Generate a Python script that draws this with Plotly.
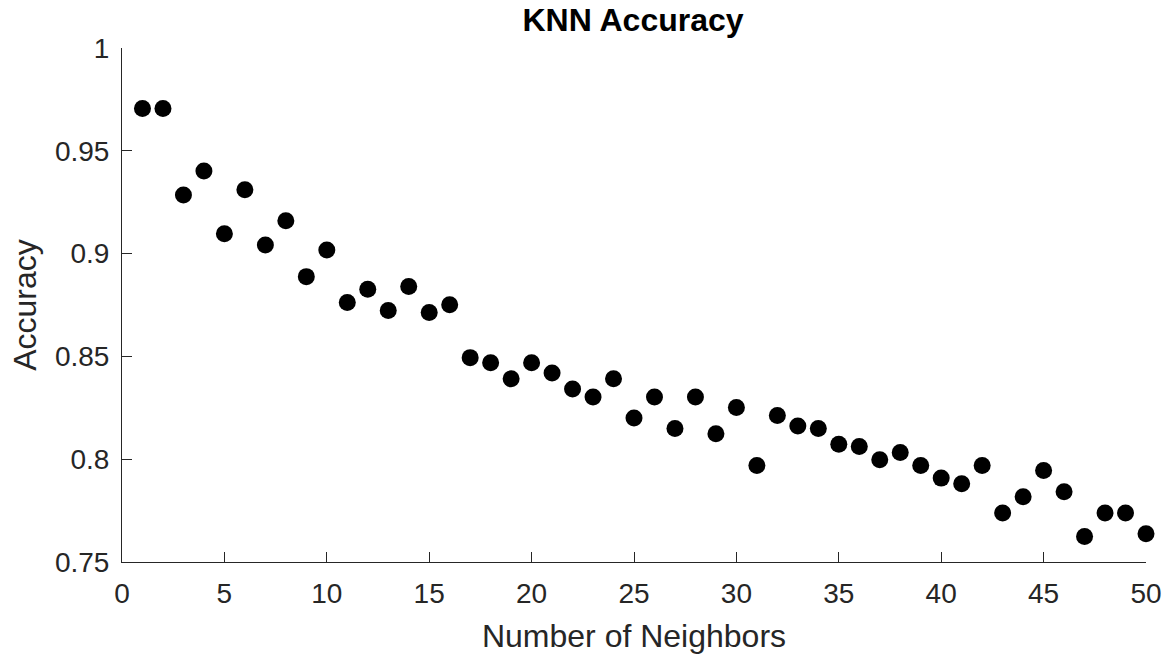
import plotly.graph_objects as go

neighbors = list(range(1, 51))
accuracy = [
    0.9706, 0.9706, 0.9285, 0.9402, 0.9096, 0.9310, 0.9042, 0.9160, 0.8888, 0.9018,
    0.8762, 0.8827, 0.8723, 0.8840, 0.8713, 0.8751, 0.8494, 0.8469, 0.8391, 0.8469,
    0.8419, 0.8341, 0.8302, 0.8391, 0.8200, 0.8302, 0.8149, 0.8302, 0.8124, 0.8251,
    0.7969, 0.8212, 0.8161, 0.8149, 0.8073, 0.8062, 0.7997, 0.8033, 0.7969, 0.7908,
    0.7881, 0.7969, 0.7738, 0.7817, 0.7945, 0.7842, 0.7624, 0.7738, 0.7738, 0.7637,
]
x_ticks = [0, 5, 10, 15, 20, 25, 30, 35, 40, 45, 50]
y_ticks = [0.75, 0.8, 0.85, 0.9, 0.95, 1.0]
y_tick_labels = ["0.75", "0.8", "0.85", "0.9", "0.95", "1"]

FONT = "Liberation Sans, Arial, Helvetica, sans-serif"
AX = "#262626"

fig = go.Figure(
    go.Scatter(
        x=neighbors,
        y=accuracy,
        mode="markers",
        marker=dict(size=17, color="black", line=dict(width=0)),
        cliponaxis=False,
        showlegend=False,
    )
)

fig.update_layout(
    width=1167,
    height=655,
    paper_bgcolor="white",
    plot_bgcolor="white",
    margin=dict(l=122, r=21, t=48, b=93, autoexpand=False),
    font=dict(family=FONT, color=AX),
    title=dict(
        text="<b>KNN Accuracy</b>",
        font=dict(family=FONT, size=32, color="black"),
        x=633 / 1167,
        xanchor="center",
        xref="container",
        yref="container",
        y=1 - 9 / 655,
        yanchor="top",
        automargin=False,
    ),
)

fig.update_xaxes(
    range=[0, 50],
    tickvals=x_ticks,
    ticktext=[str(v) for v in x_ticks],
    showgrid=False,
    zeroline=False,
    showline=True,
    linecolor=AX,
    linewidth=1,
    ticks="inside",
    ticklen=10,
    tickwidth=1,
    tickcolor=AX,
    ticklabelstandoff=6,
    tickfont=dict(family=FONT, size=28, color=AX),
    title=dict(text="Number of Neighbors", font=dict(family=FONT, size=32, color=AX), standoff=17),
    automargin=False,
    mirror=False,
)

fig.update_yaxes(
    range=[0.75, 1.0],
    tickvals=y_ticks,
    ticktext=y_tick_labels,
    showgrid=False,
    zeroline=False,
    showline=True,
    linecolor=AX,
    linewidth=1,
    ticks="inside",
    ticklen=10,
    tickwidth=1,
    tickcolor=AX,
    ticklabelstandoff=6,
    tickfont=dict(family=FONT, size=28, color=AX),
    title=dict(text="Accuracy", font=dict(family=FONT, size=32, color=AX), standoff=8),
    automargin=False,
    mirror=False,
)

fig.write_html(
    "out.html",
    config={"displayModeBar": False},
    post_script="document.body.style.margin='0';",
)
